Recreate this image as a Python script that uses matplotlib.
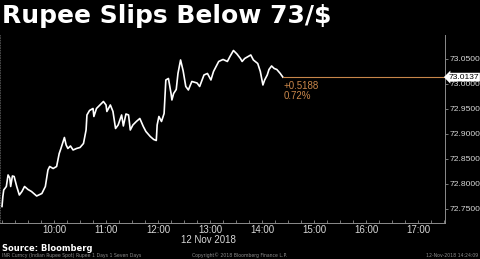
#!/usr/bin/env python3

import numpy as np
import matplotlib
matplotlib.use("Agg")
import matplotlib.pyplot as plt
from matplotlib import font_manager
from matplotlib.ticker import FixedLocator, FuncFormatter

# minutes after 09:00 on 12 Nov 2018, USD/INR spot
minutes = [0, 1, 2, 5, 7, 9, 10, 12, 14, 17, 20, 23, 26, 30, 34, 40, 46, 50, 53, 55,
           59, 63, 66, 68, 72, 74, 76, 79, 82, 86, 90, 94, 97, 98, 101, 105, 106, 109,
           113, 117, 120, 121, 125, 128, 131, 134, 138, 140, 143, 146, 148, 151, 155,
           159, 163, 166, 171, 175, 178, 179, 181, 184, 187, 189, 192, 195, 196, 198,
           201, 203, 206, 209, 212, 215, 219, 225, 228, 233, 237, 241, 244, 250, 255,
           260, 263, 267, 271, 275, 277, 280, 284, 287, 290, 295, 298, 301, 303, 306,
           308, 311, 314, 317, 321, 324]
rate = [72.755, 72.775, 72.788, 72.795, 72.818, 72.812, 72.795, 72.816, 72.815, 72.795,
        72.778, 72.785, 72.795, 72.789, 72.785, 72.776, 72.781, 72.795, 72.828, 72.835,
        72.831, 72.835, 72.861, 72.871, 72.893, 72.878, 72.871, 72.876, 72.868, 72.871,
        72.873, 72.881, 72.908, 72.938, 72.947, 72.951, 72.935, 72.951, 72.958, 72.965,
        72.958, 72.945, 72.958, 72.945, 72.911, 72.918, 72.938, 72.916, 72.940, 72.938,
        72.908, 72.918, 72.925, 72.931, 72.915, 72.905, 72.895, 72.889, 72.887, 72.918,
        72.935, 72.925, 72.941, 73.008, 73.011, 72.981, 72.968, 72.981, 72.989, 73.021,
        73.048, 73.026, 72.995, 72.988, 73.005, 73.002, 72.995, 73.018, 73.021, 73.008,
        73.025, 73.045, 73.049, 73.045, 73.055, 73.067, 73.060, 73.051, 73.045, 73.051,
        73.055, 73.058, 73.048, 73.041, 73.025, 72.998, 73.008, 73.018, 73.029, 73.036,
        73.031, 73.029, 73.021, 73.0137]

last_price = 73.0137
change = "+0.5188"
change_pct = "0.72%"
hour_labels = ["10:00", "11:00", "12:00", "13:00", "14:00", "15:00", "16:00", "17:00"]
y_ticks = [72.75, 72.80, 72.85, 72.90, 72.95, 73.00, 73.05]

bg = "black"
grey = "#8c8c8c"
orange = "#c8864a"

# narrow font for the axis labels if there is one
names = {f.name for f in font_manager.fontManager.ttflist}
narrow = "Liberation Sans Narrow" if "Liberation Sans Narrow" in names else "Liberation Sans"

fig = plt.figure(figsize=(4.8, 2.59), dpi=100, facecolor=bg)
ax = fig.add_axes([0.0, 0.139, 0.927, 0.726], facecolor=bg)

ax.plot(minutes, rate, color="white", lw=1.2, solid_joinstyle="round")

# last price line
ax.axhline(last_price, xmin=(minutes[-1] + 2.3) / 513.3, xmax=1, color=orange, lw=0.8)

ax.set_xlim(-2.3, 511)
ax.set_ylim(72.722, 73.098)

ax.yaxis.tick_right()
ax.set_yticks(y_ticks)
ax.yaxis.set_major_formatter(FuncFormatter(lambda v, p: f"{v:.4f}"))
ax.tick_params(axis="y", colors=grey, labelcolor="#d8d8d8", labelsize=6.1,
               length=2, width=0.6, pad=1)

hour_pos = [60 * (i + 1) for i in range(len(hour_labels))]
ax.set_xticks(hour_pos)
ax.set_xticklabels(hour_labels)
ax.xaxis.set_minor_locator(FixedLocator(np.arange(0, 511, 15)))
ax.tick_params(axis="x", which="both", colors=grey, labelcolor="#d8d8d8",
               labelsize=7, length=2, width=0.6, pad=1.5, direction="in")
for lbl in ax.get_xticklabels() + ax.get_yticklabels():
    lbl.set_family(narrow)

ax.spines["top"].set_visible(False)
ax.spines["left"].set_color("#555555")
ax.spines["left"].set_linestyle((0, (1, 2)))
ax.spines["left"].set_linewidth(0.6)
ax.spines["bottom"].set_color(grey)
ax.spines["right"].set_color(grey)
ax.spines["bottom"].set_linewidth(0.7)
ax.spines["right"].set_linewidth(0.7)

# last price tag on the axis
ax.annotate(f"{last_price:.4f}", xy=(1.0, last_price), xycoords=("axes fraction", "data"),
            xytext=(2.5, 0), textcoords="offset points", ha="left", va="center",
            fontsize=6.1, color="black", family=narrow,
            bbox=dict(boxstyle="larrow,pad=0.1", fc="white", ec="none"))

ax.text(minutes[-1] + 1, last_price - 0.007, change, color=orange, fontsize=7,
        ha="left", va="top", family=narrow)
ax.text(minutes[-1] + 1, last_price - 0.028, change_pct, color=orange, fontsize=7,
        ha="left", va="top", family=narrow)

fig.text(0.004, 0.985, "Rupee Slips Below 73/$", color="white", fontsize=18,
         fontweight="bold", ha="left", va="top")
fig.text(208 / 480, 1 - 240 / 259, "12 Nov 2018", color="#d8d8d8", fontsize=7,
         ha="center", va="center", family=narrow)
fig.text(0.004, 1 - 248.5 / 259, "Source: Bloomberg", color="white", fontsize=6,
         fontweight="bold", ha="left", va="center")
fig.text(0.004, 1 - 255.5 / 259, "INR Curncy (Indian Rupee Spot) Rupee 1 Days 1 Seven Days",
         color=grey, fontsize=3.3, ha="left", va="center")
fig.text(0.5, 1 - 255.5 / 259, "Copyright\u00a9 2018 Bloomberg Finance L.P.",
         color=grey, fontsize=3.3, ha="center", va="center")
fig.text(0.997, 1 - 255.5 / 259, "12-Nov-2018 14:24:09",
         color=grey, fontsize=3.3, ha="right", va="center")

fig.savefig("out.png", dpi=100, facecolor=bg)
